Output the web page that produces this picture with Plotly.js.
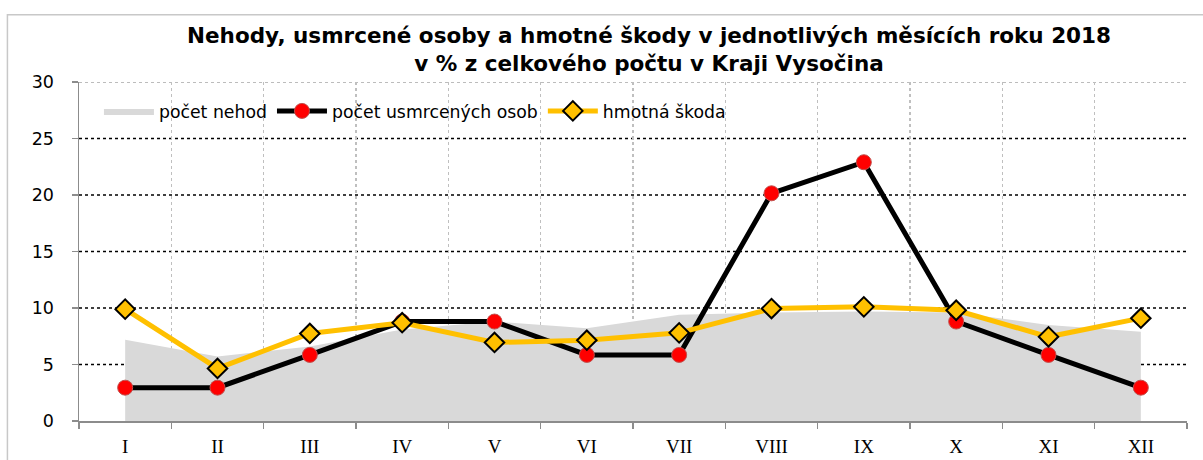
<!DOCTYPE html>
<html>
<head>
<meta charset="utf-8">
<script src="https://cdn.plot.ly/plotly-3.0.1.min.js"></script>
<style>html,body{margin:0;padding:0;background:#fff;}#chart{width:1203px;height:460px;}</style>
</head>
<body>
<div id="chart"></div>
<script>
const months = ["I","II","III","IV","V","VI","VII","VIII","IX","X","XI","XII"];
const pocetNehod = [7.2, 5.7, 6.6, 8.1, 8.8, 8.2, 9.4, 9.6, 9.7, 9.6, 8.5, 7.9];
const usmrceni = [2.95, 2.95, 5.85, 8.8, 8.8, 5.85, 5.85, 20.15, 22.9, 8.8, 5.85, 2.95];
const hmotnaSkoda = [9.9, 4.65, 7.75, 8.7, 6.95, 7.15, 7.8, 9.95, 10.1, 9.8, 7.45, 9.1];
const yTicks = [0, 5, 10, 15, 20, 25, 30];
const gridValues = [5, 10, 15, 20, 25];
const seriesNames = ["počet nehod", "počet usmrcených osob", "hmotná škoda"];

const sans = "'DejaVu Sans', sans-serif";

const traces = [
  {x: months, y: pocetNehod, name: seriesNames[0], type: "scatter", mode: "lines",
   fill: "tozeroy", fillcolor: "#d9d9d9", line: {width: 0, color: "#d9d9d9"}},
  {x: months, y: usmrceni, name: seriesNames[1], type: "scatter", mode: "lines+markers",
   line: {color: "#000000", width: 5},
   marker: {symbol: "circle", size: 15, color: "#ff0000", line: {color: "#c0504d", width: 1}}},
  {x: months, y: hmotnaSkoda, name: seriesNames[2], type: "scatter", mode: "lines+markers",
   line: {color: "#ffc000", width: 5},
   marker: {symbol: "diamond", size: 15, color: "#ffc000", line: {color: "#000000", width: 2}}}
];

const shapes = gridValues.map(v => ({
  type: "line", xref: "paper", x0: 0, x1: 1, yref: "y", y0: v, y1: v,
  line: {color: "#000000", width: 1.3, dash: "dot"}, layer: "below"
}));
shapes.push({type: "line", xref: "paper", x0: 0, x1: 1, yref: "y", y0: 30, y1: 30,
  line: {color: "#a6a6a6", width: 1.3, dash: "dot"}, layer: "below"});
shapes.push({type: "rect", xref: "paper", yref: "paper", x0: -0.0646, x1: 1.2, y0: -0.3, y1: 1.1985,
  line: {color: "#c8c8c8", width: 1.5}, layer: "below"});

const layout = {
  width: 1203, height: 460,
  margin: {l: 79, r: 16, t: 82, b: 39},
  paper_bgcolor: "#ffffff", plot_bgcolor: "rgba(0,0,0,0)",
  title: {
    text: "<b>Nehody, usmrcené osoby a hmotné škody v jednotlivých měsících roku 2018<br>v % z celkového počtu v Kraji Vysočina</b>",
    font: {family: sans, size: 21.5, color: "#000"},
    xref: "container", x: 0.5395, xanchor: "center",
    yref: "container", y: 0.906, yanchor: "middle"
  },
  showlegend: true,
  legend: {
    orientation: "h", x: 0.018, y: 0.914, xanchor: "left", yanchor: "middle",
    bgcolor: "rgba(0,0,0,0)", font: {family: sans, size: 17.3, color: "#000"},
    itemwidth: 50, traceorder: "normal"
  },
  xaxis: {
    type: "category", range: [-0.5, 11.5], tickson: "boundaries",
    showgrid: true, gridcolor: "#bfbfbf", griddash: "dot", gridwidth: 1.3,
    showline: true, linecolor: "#8c8c8c", linewidth: 1.5,
    ticks: "outside", ticklen: 6, tickcolor: "#8c8c8c", tickwidth: 1.5,
    tickfont: {family: "'Liberation Serif', 'Times New Roman', serif", size: 19, color: "#000"},
    ticklabelstandoff: 8, zeroline: false, fixedrange: true
  },
  yaxis: {
    range: [0, 30], tickvals: yTicks, ticktext: yTicks.map(String),
    showgrid: false, zeroline: false,
    showline: true, linecolor: "#8c8c8c", linewidth: 1.5,
    ticks: "outside", ticklen: 6, tickcolor: "#8c8c8c", tickwidth: 1.5,
    tickfont: {family: sans, size: 17.5, color: "#000"},
    ticklabelstandoff: 14, fixedrange: true
  },
  shapes: shapes
};

Plotly.newPlot("chart", traces, layout, {displayModeBar: false, staticPlot: true});
</script>
</body>
</html>
